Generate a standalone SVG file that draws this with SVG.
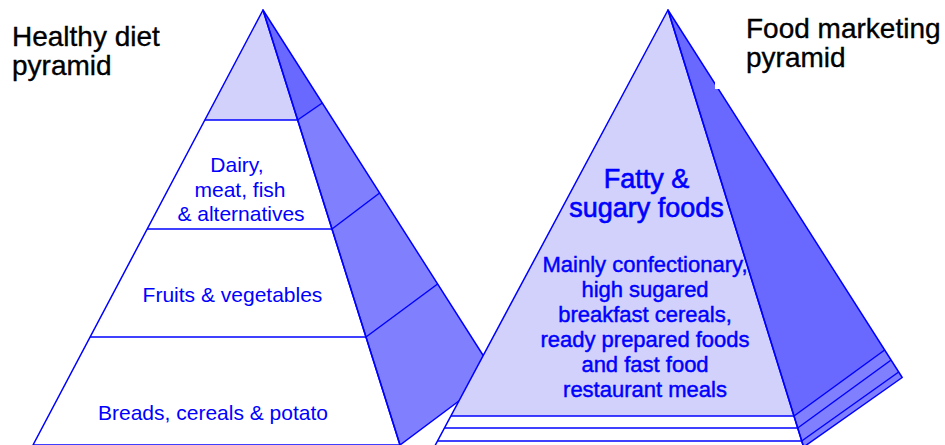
<svg xmlns="http://www.w3.org/2000/svg" width="945" height="445" viewBox="0 0 945 445">
<style>
.ln{stroke:#0000ff;stroke-width:1.5;stroke-linejoin:round;fill:none}
.lt{fill:#d1d1fb}
.wh{fill:#ffffff}
.sd{fill:#8080ff}
.dk{fill:#6969ff}
.title{font-family:"Liberation Sans",Arial,sans-serif;font-size:28px;fill:#000000;stroke:#000000;stroke-width:0.35}
.lbl{font-family:"Liberation Sans",Arial,sans-serif;font-size:21px;fill:#0000ff;text-anchor:middle}
.hd{font-family:"Liberation Sans",Arial,sans-serif;font-size:27px;fill:#0000ff;stroke:#0000ff;stroke-width:0.6;text-anchor:middle}
.bd{font-family:"Liberation Sans",Arial,sans-serif;font-size:22px;fill:#0000ff;stroke:#0000ff;stroke-width:0.45;text-anchor:middle}
</style>
<rect width="945" height="445" fill="#ffffff"/>

<g id="healthy-pyramid">
  <polygon class="sd" points="263,10 495,374 400,445"/>
  <polygon class="dk" points="263,10 322.3,103 297.6,120"/>
  <polygon class="wh" points="263,10 33,445 400,445"/>
  <polygon class="lt" points="263,10 204.8,120 297.6,120"/>
  <polygon class="ln" points="263,10 33,445 400,445"/>
  <polygon class="ln" points="263,10 495,374 400,445"/>
  <line class="ln" x1="204.8" y1="120" x2="297.6" y2="120"/>
  <line class="ln" x1="147.2" y1="229" x2="332" y2="229"/>
  <line class="ln" x1="90.1" y1="337" x2="366" y2="337"/>
  <line class="ln" x1="297.6" y1="120" x2="322.3" y2="103"/>
  <line class="ln" x1="332" y1="229" x2="379.6" y2="193"/>
  <line class="ln" x1="366" y1="337" x2="437.6" y2="284"/>
  <text class="lbl" x="237" y="172">Dairy,</text>
  <text class="lbl" x="240" y="197">meat, fish</text>
  <text class="lbl" x="241" y="221">&amp; alternatives</text>
  <text class="lbl" x="232.5" y="302">Fruits &amp; vegetables</text>
  <text class="lbl" x="213" y="420">Breads, cereals &amp; potato</text>
</g>

<g id="marketing-pyramid">
  <polygon class="sd" points="668,10 902.2,377.5 803.6,447"/>
  <polygon class="dk" points="668,10 884.7,350 794,416"/>
  <polygon class="wh" points="668,10 434.3,447 803.6,447"/>
  <polygon class="lt" points="668,10 450.9,416 794,416"/>
  <polygon class="ln" points="668,10 434.3,447 803.6,447"/>
  <polygon class="ln" points="668,10 902.2,377.5 803.6,447"/>
  <line class="ln" x1="450.9" y1="416" x2="794" y2="416"/>
  <line class="ln" x1="444.5" y1="428" x2="797.7" y2="428"/>
  <line class="ln" x1="437.5" y1="441" x2="801.7" y2="441"/>
  <line class="ln" x1="794" y1="416" x2="884.7" y2="350"/>
  <line class="ln" x1="797.7" y1="428" x2="891.1" y2="360"/>
  <line class="ln" x1="801.7" y1="441" x2="898.7" y2="372"/>
  <text class="hd" x="646.5" y="188">Fatty &amp;</text>
  <text class="hd" x="646.5" y="217">sugary foods</text>
  <text class="bd" x="645" y="272">Mainly confectionary,</text>
  <text class="bd" x="645" y="297">high sugared</text>
  <text class="bd" x="645" y="322">breakfast cereals,</text>
  <text class="bd" x="645" y="347">ready prepared foods</text>
  <text class="bd" x="645" y="372">and fast food</text>
  <text class="bd" x="645" y="397">restaurant meals</text>
</g>

<g id="titles">
  <text class="title" x="12" y="46">Healthy diet</text>
  <text class="title" x="12" y="75">pyramid</text>
  <rect x="715" y="0" width="230" height="89" fill="#ffffff"/>
  <text class="title" x="746" y="38">Food marketing</text>
  <text class="title" x="746" y="67">pyramid</text>
</g>
</svg>
